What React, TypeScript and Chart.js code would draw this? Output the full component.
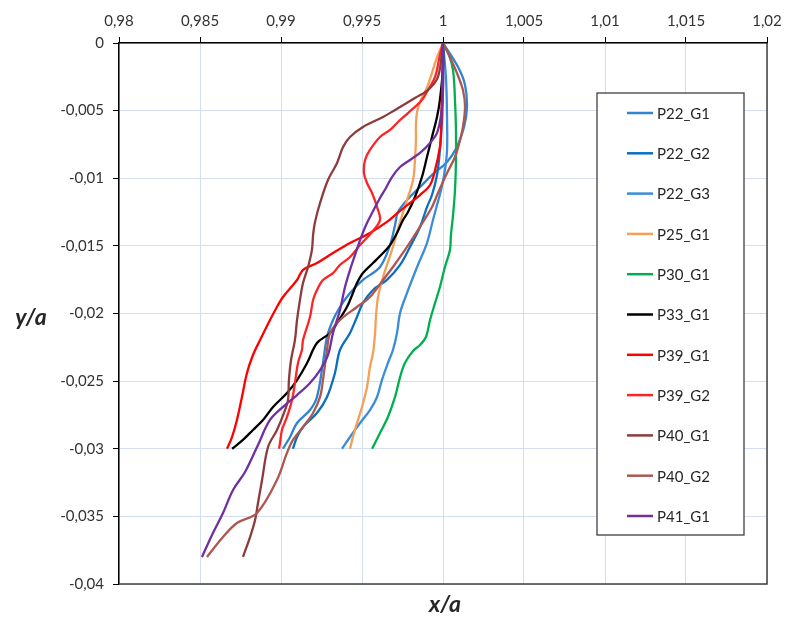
import React, { useEffect, useRef } from 'react';
import { Chart, registerables } from 'chart.js';

Chart.register(...registerables);

const SERIES_NAMES = ['P22_G1', 'P22_G2', 'P22_G3', 'P25_G1', 'P30_G1', 'P33_G1', 'P39_G1', 'P39_G2', 'P40_G1', 'P40_G2', 'P41_G1'];
const SERIES_COLORS = ['#2F83CF', '#0B6FBF', '#3A8DD6', '#F4A056', '#00B050', '#000000', '#FF0000', '#FF2424', '#8E3B3B', '#AD5751', '#7030A0'];

const X_TICKS = [0.98, 0.985, 0.99, 0.995, 1, 1.005, 1.01, 1.015, 1.02];
const Y_TICKS = [0, -0.005, -0.01, -0.015, -0.02, -0.025, -0.03, -0.035, -0.04];

const P22_G1: [number, number][] = [
  [1, 0], [1.00093, -0.00178], [1.00136, -0.0031], [1.00148, -0.00473], [1.0013, -0.00621], [1.00086, -0.00769],
  [1.00025, -0.0088], [0.99938, -0.00969], [0.99858, -0.01065], [0.99784, -0.01153], [0.99722, -0.0125],
  [0.99704, -0.01346], [0.99673, -0.01494], [0.99611, -0.01656], [0.99506, -0.01752], [0.99426, -0.01848],
  [0.99364, -0.01952], [0.99321, -0.02048], [0.99284, -0.02174], [0.99259, -0.02366], [0.99222, -0.02617],
  [0.99179, -0.02714], [0.99099, -0.0281], [0.99056, -0.02913], [0.99012, -0.03],
];
const P22_G2: [number, number][] = [
  [1, 0], [1.0, -0.00274], [0.99994, -0.00569], [0.99981, -0.00791], [0.99963, -0.00976], [0.99932, -0.01124],
  [0.99901, -0.01213], [0.99858, -0.0136], [0.99796, -0.01508], [0.99735, -0.01641], [0.99654, -0.01752],
  [0.99568, -0.01826], [0.99506, -0.01922], [0.99469, -0.02026], [0.99426, -0.02144], [0.99364, -0.0227],
  [0.99333, -0.0244], [0.99284, -0.02617], [0.99222, -0.02736], [0.99136, -0.02839], [0.99099, -0.02913],
  [0.99074, -0.03],
];
const P22_G3: [number, number][] = [
  [1, 0], [1.00019, -0.00274], [1.00025, -0.00569], [1.00025, -0.00791], [1.00012, -0.00939], [0.99988, -0.01087],
  [0.99963, -0.01198], [0.99938, -0.01309], [0.99901, -0.01479], [0.9984, -0.01656], [0.99778, -0.01848],
  [0.99735, -0.01996], [0.99716, -0.02144], [0.99691, -0.0227], [0.9966, -0.02366], [0.99623, -0.02492],
  [0.99593, -0.02617], [0.99549, -0.02714], [0.99488, -0.0281], [0.99426, -0.02913], [0.99377, -0.03],
];
const P25_G1: [number, number][] = [
  [1, 0], [0.99957, -0.00126], [0.99907, -0.00311], [0.99858, -0.00436], [0.9984, -0.0051], [0.99833, -0.00606],
  [0.99833, -0.00717], [0.99827, -0.00865], [0.99815, -0.01013], [0.99772, -0.01183], [0.99729, -0.01346],
  [0.99685, -0.0153], [0.9963, -0.0173], [0.99599, -0.01878], [0.99586, -0.02026], [0.9958, -0.02159],
  [0.99568, -0.02292], [0.99549, -0.02396], [0.99531, -0.02543], [0.995, -0.02691], [0.99469, -0.0281],
  [0.99444, -0.02913], [0.99426, -0.03],
];
const P30_G1: [number, number][] = [
  [1, 0], [1.00037, -0.00089], [1.00062, -0.002], [1.00074, -0.00421], [1.0008, -0.00643], [1.0008, -0.00865],
  [1.00074, -0.01087], [1.00062, -0.01272], [1.00049, -0.0142], [1.00043, -0.0153], [1.00012, -0.01656],
  [0.99981, -0.01804], [0.99951, -0.01922], [0.9992, -0.02048], [0.99895, -0.02174], [0.99858, -0.02233],
  [0.99815, -0.02277], [0.99765, -0.02366], [0.99735, -0.0247], [0.99704, -0.02617], [0.9966, -0.02765],
  [0.99611, -0.02884], [0.99562, -0.03],
];
const P33_G1: [number, number][] = [
  [1, 0], [1.0, -0.00177], [0.99981, -0.00421], [0.99963, -0.00547], [0.99932, -0.00695], [0.99901, -0.00843],
  [0.9987, -0.00991], [0.99827, -0.01139], [0.99784, -0.0125], [0.99753, -0.01309], [0.99716, -0.01405],
  [0.99673, -0.01494], [0.9963, -0.01553], [0.99568, -0.01627], [0.99506, -0.01701], [0.99469, -0.01775],
  [0.99444, -0.01848], [0.99407, -0.01952], [0.99346, -0.0207], [0.99303, -0.02144], [0.99222, -0.02218],
  [0.99161, -0.02366], [0.99099, -0.02492], [0.99037, -0.02588], [0.98951, -0.02691], [0.98889, -0.02787],
  [0.98827, -0.02861], [0.98765, -0.02935], [0.98698, -0.03],
];
const P39_G1: [number, number][] = [
  [1, 0], [0.99994, -0.00348], [0.99988, -0.00643], [0.99981, -0.00769], [0.99951, -0.00939], [0.9992, -0.0105],
  [0.99858, -0.01124], [0.99796, -0.01183], [0.99704, -0.01272], [0.99654, -0.01323], [0.99549, -0.01405],
  [0.99426, -0.01479], [0.99321, -0.01553], [0.99222, -0.01627], [0.99136, -0.01678], [0.99099, -0.01752],
  [0.99012, -0.01878], [0.98975, -0.01952], [0.98932, -0.02048], [0.98871, -0.02196], [0.98827, -0.02307],
  [0.9879, -0.0244], [0.98759, -0.02617], [0.98728, -0.02787], [0.98698, -0.02913], [0.98667, -0.03],
];
const P39_G2: [number, number][] = [
  [1, 0], [0.99981, -0.00089], [0.99951, -0.00251], [0.99907, -0.00348], [0.9987, -0.00421], [0.99784, -0.00518],
  [0.99722, -0.00584], [0.99673, -0.00643], [0.99611, -0.00695], [0.99549, -0.00791], [0.99519, -0.00865],
  [0.99512, -0.00961], [0.99531, -0.01035], [0.99562, -0.01109], [0.99593, -0.01213], [0.99611, -0.01309],
  [0.99562, -0.01397], [0.99488, -0.01494], [0.99426, -0.01582], [0.99364, -0.01641], [0.99321, -0.01701],
  [0.99259, -0.01752], [0.99222, -0.01826], [0.99198, -0.019], [0.99179, -0.02026], [0.99136, -0.02196],
  [0.99129, -0.0227], [0.99105, -0.02366], [0.99086, -0.02514], [0.99068, -0.0264], [0.99037, -0.02765],
  [0.99006, -0.02861], [0.98994, -0.02957], [0.98988, -0.03],
];
const P40_G1: [number, number][] = [
  [1, 0], [0.99969, -0.00251], [0.99907, -0.00348], [0.99827, -0.00407], [0.99704, -0.00495], [0.9963, -0.00547],
  [0.99506, -0.00621], [0.99426, -0.00695], [0.99383, -0.00769], [0.99346, -0.00887], [0.9929, -0.01013],
  [0.99241, -0.01183], [0.9921, -0.01323], [0.99198, -0.0142], [0.99191, -0.0153], [0.99167, -0.01656],
  [0.99136, -0.01775], [0.99117, -0.019], [0.99099, -0.02048], [0.99086, -0.02196], [0.99062, -0.02344],
  [0.99049, -0.02492], [0.99043, -0.0264], [0.99018, -0.02736], [0.98975, -0.02861],
  [0.9892, -0.02987], [0.98883, -0.03231], [0.98858, -0.03401], [0.9884, -0.03527], [0.98809, -0.03653],
  [0.98765, -0.038],
];
const P40_G2: [number, number][] = [
  [1, 0], [1.00031, -0.00074], [1.00086, -0.00222], [1.00123, -0.00348], [1.00136, -0.00473], [1.00123, -0.00621],
  [1.00105, -0.00717], [1.00074, -0.00843], [1.00025, -0.00961], [0.99969, -0.01109], [0.99932, -0.01213],
  [0.99877, -0.01323], [0.99778, -0.01508], [0.99691, -0.01656], [0.9963, -0.01752], [0.99549, -0.01878],
  [0.99469, -0.01952], [0.99364, -0.02048], [0.99303, -0.02144], [0.99284, -0.0227], [0.99259, -0.02492],
  [0.99241, -0.02617], [0.99198, -0.02736], [0.99136, -0.02839], [0.99074, -0.02935], [0.99037, -0.03031],
  [0.98975, -0.03231], [0.98852, -0.03475], [0.98728, -0.03549], [0.98642, -0.03653], [0.98543, -0.038],
];
const P41_G1: [number, number][] = [
  [1, 0], [1.0, -0.00348], [0.99988, -0.00532], [0.99963, -0.00665], [0.9992, -0.00739], [0.99858, -0.00813],
  [0.99796, -0.00865], [0.99735, -0.00917], [0.99685, -0.00991], [0.99648, -0.01072], [0.99611, -0.01146],
  [0.99562, -0.01257], [0.99525, -0.01346], [0.99488, -0.01457], [0.99457, -0.01567], [0.99426, -0.01678],
  [0.99395, -0.01804], [0.99364, -0.01974], [0.99321, -0.02144], [0.9929, -0.02307], [0.99241, -0.02418],
  [0.99179, -0.02514], [0.99099, -0.02603], [0.99025, -0.02677], [0.98932, -0.02787], [0.98858, -0.02972],
  [0.98778, -0.03172], [0.98704, -0.03305], [0.98642, -0.03475], [0.9858, -0.03623], [0.98512, -0.038],
];

const SERIES_DATA = [P22_G1, P22_G2, P22_G3, P25_G1, P30_G1, P33_G1, P39_G1, P39_G2, P40_G1, P40_G2, P41_G1];

const FONT = 'Lato, "Open Sans", sans-serif';
const fmt = (v: number) => String(Math.abs(v) < 1e-12 ? 0 : v).replace('.', ',');

const decorPlugin = {
  id: 'decor',
  afterDraw(chart: any) {
    const { ctx, chartArea } = chart;
    const { left, right, top, bottom } = chartArea;
    ctx.save();
    ctx.strokeStyle = '#404040';
    ctx.lineWidth = 1.5;
    ctx.beginPath();
    ctx.moveTo(right, top);
    ctx.lineTo(right, bottom);
    ctx.lineTo(left, bottom);
    ctx.stroke();

    const lx = right - 170;
    const ly = top + 50;
    const lw = 147;
    const lh = 442;
    ctx.fillStyle = '#ffffff';
    ctx.fillRect(lx, ly, lw, lh);
    ctx.strokeStyle = '#404040';
    ctx.lineWidth = 1.3;
    ctx.strokeRect(lx, ly, lw, lh);
    ctx.font = `15px ${FONT}`;
    ctx.textBaseline = 'middle';
    ctx.textAlign = 'left';
    chart.data.datasets.forEach((ds: any, i: number) => {
      const y = ly + 20 + i * 40.3;
      ctx.strokeStyle = ds.borderColor;
      ctx.lineWidth = 2.5;
      ctx.beginPath();
      ctx.moveTo(lx + 30, y);
      ctx.lineTo(lx + 56, y);
      ctx.stroke();
      ctx.fillStyle = '#262626';
      ctx.fillText(ds.label, lx + 60, y + 1);
    });

    ctx.fillStyle = '#262626';
    ctx.font = `italic bold 23px ${FONT}`;
    ctx.textAlign = 'center';
    ctx.textBaseline = 'middle';
    ctx.fillText('x/a', (left + right) / 2 + 2, bottom + 21);
    ctx.fillText('y/a', 31, (top + bottom) / 2 + 4);
    ctx.restore();
  },
};

export default function App() {
  const ref = useRef<HTMLCanvasElement | null>(null);
  useEffect(() => {
    if (!ref.current) return;
    const chart = new Chart(ref.current, {
      type: 'scatter',
      data: {
        datasets: SERIES_DATA.map((d, i) => ({
          label: SERIES_NAMES[i],
          data: d.map(([x, y]) => ({ x, y })),
          showLine: true,
          borderColor: SERIES_COLORS[i],
          backgroundColor: SERIES_COLORS[i],
          borderWidth: 2.3,
          pointRadius: 0,
          pointHoverRadius: 0,
          tension: 0.35,
          order: SERIES_DATA.length - i,
        })),
      },
      options: {
        animation: false,
        responsive: false,
        devicePixelRatio: 1,
        layout: { padding: { left: 0, top: 0, right: 23, bottom: 35 } },
        plugins: { legend: { display: false }, tooltip: { enabled: false } },
        scales: {
          x: {
            type: 'linear',
            position: 'top',
            min: 0.98,
            max: 1.02,
            afterBuildTicks: (s: any) => { s.ticks = X_TICKS.map((v) => ({ value: v })); },
            afterFit: (s: any) => { s.height = 43; },
            ticks: {
              callback: (v: any) => fmt(Number(v)),
              font: { family: FONT, size: 15 },
              color: '#333333',
              padding: 7,
              maxRotation: 0,
              autoSkip: false,
            },
            grid: { color: '#D3DEEF', lineWidth: 1, tickLength: 6, tickColor: '#000000', drawTicks: true },
            border: { display: true, color: '#000000', width: 1.5 },
          },
          y: {
            type: 'linear',
            position: 'left',
            min: -0.04,
            max: 0,
            afterBuildTicks: (s: any) => { s.ticks = Y_TICKS.map((v) => ({ value: v })); },
            afterFit: (s: any) => { s.width = 119; },
            ticks: {
              callback: (v: any) => fmt(Number(v)),
              font: { family: FONT, size: 15 },
              color: '#333333',
              padding: 9,
              autoSkip: false,
            },
            grid: { color: '#D3DEEF', lineWidth: 1, tickLength: 6, tickColor: '#000000', drawTicks: true },
            border: { display: true, color: '#000000', width: 1.5 },
          },
        },
      },
      plugins: [decorPlugin],
    });
    return () => chart.destroy();
  }, []);
  return (
    <div style={{ position: 'absolute', left: 0, top: 0, width: 790, height: 619, background: '#fff' }}>
      <canvas ref={ref} width={790} height={619} />
    </div>
  );
}
